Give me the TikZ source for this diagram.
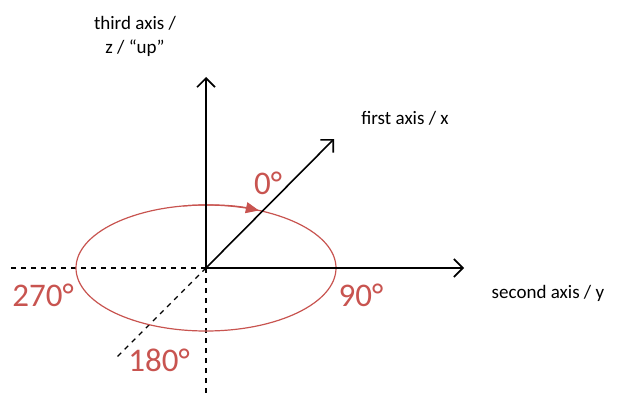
\documentclass[tikz,border=0pt]{standalone}
\usepackage{fontspec}
\setmainfont{Carlito}
\usepackage{tikz}
\usetikzlibrary{arrows.meta, positioning, calc}

\definecolor{anglered}{RGB}{200,84,80}

\begin{document}
\begin{tikzpicture}[x=1pt, y=-1pt,
    axis/.style={-{Straight Barb[length=9pt,width=18pt]}, line width=1.6pt},
    guide/.style={dashed, line width=1.3pt, dash pattern=on 5pt off 5pt},
    axislabel/.style={font=\fontsize{19}{24}\selectfont, inner sep=0pt, align=center},
    anglelabel/.style={font=\fontsize{33}{38}\selectfont, text=anglered, inner sep=0pt}]
      \useasboundingbox (0,0) rectangle (618,393);

      \coordinate (o) at (206,268);
      \coordinate (up) at (206,77);
      \coordinate (y) at (464,268);
      \coordinate (x) at (334,139);
      \coordinate (left) at (9,268);
      \coordinate (down) at (206,393);
      \coordinate (back) at (116,358);

      \draw[guide] (o) -- (left);
      \draw[guide] (o) -- (down);
      \draw[guide] (o) -- (back);

      \draw[anglered, line width=1.2pt] (o) ellipse [x radius=130, y radius=63];
      \draw[anglered, line width=1.2pt, -{Triangle[length=13pt,width=11pt]}]
        (o) ++(-100:130 and 63) arc [start angle=-100, end angle=-66, x radius=130, y radius=63];

      \draw[axis] (o) -- (up);
      \draw[axis] (o) -- (y);
      \draw[axis] (o) -- (x);

      \node[axislabel] (zlabel) at (135,36) {third axis /\\z / “up”};
      \node[axislabel] (xlabel) at (405,118) {first axis / x};
      \node[axislabel] (ylabel) at (548,293) {second axis / y};

      \node[anglelabel] (a0) at (268,183) {0°};
      \node[anglelabel] (a90) at (361,295) {90°};
      \node[anglelabel] (a180) at (159,360) {180°};
      \node[anglelabel] (a270) at (43,295) {270°};
    \end{tikzpicture}
\end{document}
